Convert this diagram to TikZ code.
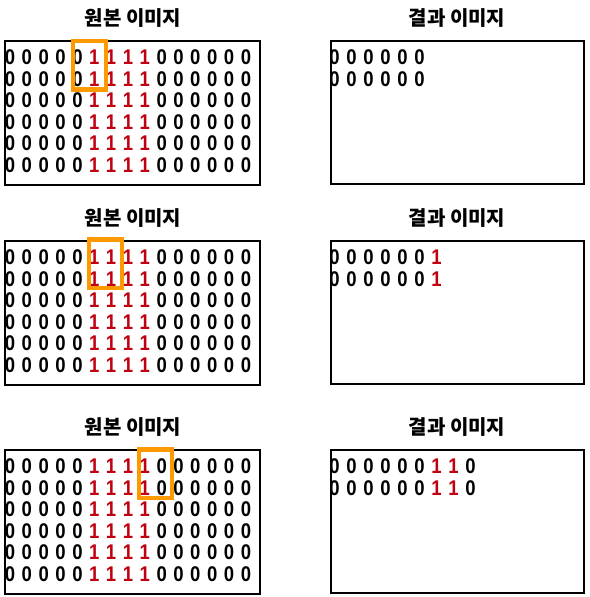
\documentclass[tikz,border=0pt]{standalone}
\usepackage{fontspec}
\setmainfont{Liberation Sans}
\newfontfamily\kr{Noto Sans CJK KR}
\definecolor{myred}{RGB}{192,0,16}
\definecolor{myorange}{RGB}{255,153,0}
\newcommand{\tallnum}[1]{\scalebox{1}[1.15]{#1}}
\begin{document}
\begin{tikzpicture}[x=1pt,y=-1pt,
  panel/.style={draw=black,line width=1.2pt},
  hl/.style={draw=myorange,line width=4.3pt},
  dig/.style={inner sep=0pt,anchor=center,font=\fontsize{18.5}{18.5}\selectfont\bfseries},
  ttl/.style={inner sep=0pt,anchor=center,font=\kr\fontsize{20}{20}\selectfont\bfseries}]
\useasboundingbox (0,0) rectangle (589,597);
\def\rowspec{0/0/black,1/0/black,2/0/black,3/0/black,4/0/black,5/1/myred,6/1/myred,7/1/myred,8/1/myred,9/0/black,10/0/black,11/0/black,12/0/black,13/0/black,14/0/black}
\foreach \p/\top/\tt in {1/41/18,2/241/218,3/450/427}{
  \node[ttl] (ta\p) at (133,\tt) {원본 이미지};
  \node[ttl] (tb\p) at (457,\tt) {결과 이미지};
  \draw[panel] (5,\top) rectangle (260,\top+144);
  \draw[panel] (331,\top) rectangle (584,\top+143);
  \foreach \r in {0,...,5}{
    \foreach \c/\d/\col in \rowspec{
      \node[dig,text=\col] (o\p-\r-\c) at (10+16.85*\c,\top+16.5+21.5*\r) {\tallnum{\d}};
    }
  }
}
% result digits
\foreach \r in {0,1}{
  \foreach \j in {0,...,5}{
    \node[dig] (ra-\r-\j) at (334.5+17*\j,41+16.5+21.5*\r) {\tallnum{0}};
  }
  \foreach \j/\d/\col in {0/0/black,1/0/black,2/0/black,3/0/black,4/0/black,5/0/black,6/1/myred}{
    \node[dig,text=\col] (rb-\r-\j) at (334.5+17*\j,241+16.5+21.5*\r) {\tallnum{\d}};
  }
  \foreach \j/\d/\col in {0/0/black,1/0/black,2/0/black,3/0/black,4/0/black,5/0/black,6/1/myred,7/1/myred,8/0/black}{
    \node[dig,text=\col] (rc-\r-\j) at (334.5+17*\j,450+16.5+21.5*\r) {\tallnum{\d}};
  }
}
% highlight windows
\draw[hl] (73,41) rectangle (106,89.5);
\draw[hl] (88.8,239.5) rectangle (122.2,288);
\draw[hl] (138.8,449.5) rectangle (172.2,498);
\end{tikzpicture}
\end{document}
